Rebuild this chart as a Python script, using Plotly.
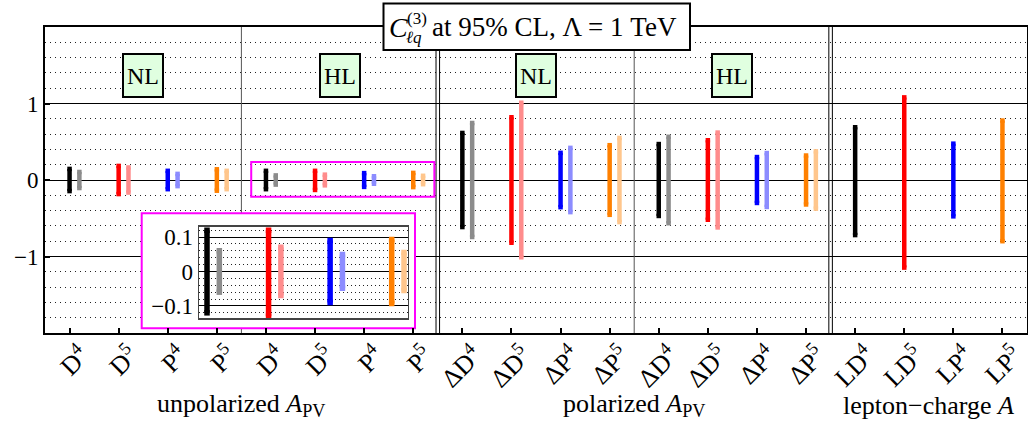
import plotly.graph_objects as go

# ---------------- data ----------------
tick_labels = ["D<sup>4</sup>", "D<sup>5</sup>", "P<sup>4</sup>", "P<sup>5</sup>",
               "D<sup>4</sup>", "D<sup>5</sup>", "P<sup>4</sup>", "P<sup>5</sup>",
               "ΔD<sup>4</sup>", "ΔD<sup>5</sup>", "ΔP<sup>4</sup>", "ΔP<sup>5</sup>",
               "ΔD<sup>4</sup>", "ΔD<sup>5</sup>", "ΔP<sup>4</sup>", "ΔP<sup>5</sup>",
               "LD<sup>4</sup>", "LD<sup>5</sup>", "LP<sup>4</sup>", "LP<sup>5</sup>"]

# upper / lower bound of the dark (first) bar of each category
dark_hi = [0.145, 0.184, 0.12, 0.14,
           0.12, 0.12, 0.09, 0.093,
           0.615, 0.82, 0.355, 0.455,
           0.47, 0.52, 0.30, 0.32,
           0.69, 1.08, 0.475, 0.777]
dark_lo = [-0.145, -0.184, -0.12, -0.14,
           -0.12, -0.13, -0.09, -0.093,
           -0.615, -0.82, -0.355, -0.455,
           -0.47, -0.52, -0.30, -0.32,
           -0.72, -1.145, -0.475, -0.80]
# upper / lower bound of the light (second) bar of each category
light_hi = [0.105, 0.164, 0.08, 0.12,
            0.06, 0.07, 0.049, 0.055,
            0.745, 1.01, 0.42, 0.55,
            0.565, 0.62, 0.352, 0.375,
            None, None, None, None]
light_lo = [-0.105, -0.164, -0.08, -0.12,
            -0.06, -0.07, -0.049, -0.055,
            -0.745, -1.01, -0.42, -0.55,
            -0.565, -0.62, -0.352, -0.375,
            None, None, None, None]

group_names = ["unpolarized <i>A</i><sub>PV</sub>", "polarized <i>A</i><sub>PV</sub>",
               "lepton−charge <i>A</i>"]
group_members = [range(0, 8), range(8, 16), range(16, 20)]
sub_names = ["NL", "HL", "NL", "HL"]
sub_members = [range(0, 4), range(4, 8), range(8, 12), range(12, 16)]
inset_members = range(4, 8)

dark_colors = ["#000000", "#ff0000", "#0000ff", "#ff8000"]
light_colors = ["#8c8c8c", "#ff8c8c", "#8c8cff", "#ffc68c"]
LIGHT_DX = 0.2

FONT = "Liberation Serif"


def segs(idxs, lo, hi, dx=0.0):
    xs, ys = [], []
    for i in idxs:
        if hi[i] is None:
            continue
        xs += [i + dx, i + dx, None]
        ys += [lo[i], hi[i], None]
    return xs, ys


fig = go.Figure()

n = len(tick_labels)
for c in range(4):
    idxs = [i for i in range(n) if i % 4 == c]
    for lo, hi, dx, col in [(dark_lo, dark_hi, 0.0, dark_colors[c]),
                            (light_lo, light_hi, LIGHT_DX, light_colors[c])]:
        xs, ys = segs(idxs, lo, hi, dx)
        fig.add_trace(go.Scatter(x=xs, y=ys, mode="lines+markers",
                                 line=dict(color=col, width=4.5),
                                 marker=dict(symbol="square", size=4.5, color=col,
                                             line=dict(width=0)),
                                 hoverinfo="skip", xaxis="x", yaxis="y"))
    iidx = [i for i in inset_members if i % 4 == c]
    for lo, hi, dx, col in [(dark_lo, dark_hi, 0.0, dark_colors[c]),
                            (light_lo, light_hi, LIGHT_DX, light_colors[c])]:
        xs, ys = segs(iidx, lo, hi, dx)
        fig.add_trace(go.Scatter(x=xs, y=ys, mode="lines+markers",
                                 line=dict(color=col, width=5.5),
                                 marker=dict(symbol="square", size=5.5, color=col,
                                             line=dict(width=0)),
                                 hoverinfo="skip", xaxis="x2", yaxis="y2"))

# ---------------- geometry helpers ----------------
W, H = 1028, 423
ML, MR, MT, MB = 45, 1, 27, 90
PW, PH = W - ML - MR, H - MT - MB
XR = (-0.5, 19.5)
YR = (-2.0, 2.0)


def px(x):
    return (x - ML) / PW


def py(y):
    return (H - MB - y) / PH


def dx_(x):
    return XR[0] + (x - ML) / PW * (XR[1] - XR[0])


def dy_(y):
    return YR[1] - (y - MT) / PH * (YR[1] - YR[0])


# ---------------- shapes ----------------
shapes = []
for xs_, col in [(3.5, "#555555"), (11.5, "#555555")]:
    shapes.append(dict(type="line", xref="x", yref="y", x0=xs_, x1=xs_, y0=YR[0], y1=YR[1],
                       line=dict(color=col, width=1), layer="between"))
for xs_ in (7.5, 15.5):
    for d in (-0.036, 0.036):
        shapes.append(dict(type="line", xref="x", yref="y", x0=xs_ + d, x1=xs_ + d,
                           y0=YR[0], y1=YR[1], line=dict(color="black", width=1),
                           layer="between"))
# inset background box (covers main grid, below inset subplot)
shapes.append(dict(type="rect", xref="x", yref="y",
                   x0=dx_(141.7), x1=dx_(415), y0=dy_(328.3), y1=dy_(213.3),
                   fillcolor="white", line=dict(color="#ff00ff", width=2), layer="between"))
# magenta frame marking the zoomed region
shapes.append(dict(type="rect", xref="x", yref="y", x0=3.70, x1=7.43, y0=-0.218, y1=0.235,
                   line=dict(color="#ff00ff", width=2), layer="above"))
# title box
shapes.append(dict(type="rect", xref="paper", yref="paper",
                   x0=px(383.5), x1=px(690), y0=py(50), y1=py(3.5),
                   fillcolor="white", line=dict(color="black", width=2), layer="above"))

# ---------------- annotations ----------------
ann = []
for name, mem in zip(sub_names, sub_members):
    cx = sum(mem) / len(mem)
    ann.append(dict(text=name, xref="x", yref="y", x=cx, y=1.36, showarrow=False,
                    bgcolor="#e0ffe0", bordercolor="black", borderwidth=2, borderpad=0,
                    width=38, height=41, font=dict(size=24, family=FONT)))
for name, mem in zip(group_names, group_members):
    cx = (min(mem) + max(mem)) / 2
    ann.append(dict(text=name, xref="x", yref="paper", x=cx, y=py(405), yanchor="middle",
                    showarrow=False, font=dict(size=26, family=FONT)))
ann.append(dict(text="<i>C</i>", xref="paper", yref="paper", x=px(387), y=py(27),
                xanchor="left", yanchor="middle", showarrow=False,
                font=dict(size=28, family=FONT)))
ann.append(dict(text="(3)", xref="paper", yref="paper", x=px(405), y=py(18),
                xanchor="left", yanchor="middle", showarrow=False,
                font=dict(size=17, family=FONT)))
ann.append(dict(text="<i>ℓq</i>", xref="paper", yref="paper", x=px(404), y=py(38),
                xanchor="left", yanchor="middle", showarrow=False,
                font=dict(size=17, family=FONT)))
ann.append(dict(text="at 95% CL, Λ = 1 TeV", xref="paper", yref="paper", x=px(554), y=py(27),
                xanchor="center", yanchor="middle", showarrow=False,
                font=dict(size=27, family=FONT)))

fig.update_layout(
    width=W, height=H,
    margin=dict(l=ML, r=MR, t=MT, b=MB, autoexpand=False),
    plot_bgcolor="white", paper_bgcolor="white",
    showlegend=False,
    font=dict(family=FONT, color="black"),
    shapes=shapes, annotations=ann,
    xaxis=dict(range=list(XR), tickmode="array", tickvals=list(range(n)), ticktext=tick_labels,
               tickangle=-45, ticks="inside", ticklen=5, tickwidth=2, tickcolor="black",
               showline=True, mirror=True, linewidth=2, linecolor="black",
               showgrid=False, zeroline=False, tickfont=dict(size=26, family=FONT),
               ticklabelshift=12, ticklabelstandoff=-5, automargin=False),
    yaxis=dict(range=list(YR), tickmode="array", tickvals=[-1, 0, 1], ticktext=["−1", "0", "1"],
               ticks="inside", ticklen=5, tickwidth=2, tickcolor="black",
               showline=True, mirror=True, linewidth=2, linecolor="black",
               showgrid=True, gridcolor="black", gridwidth=1, zeroline=False,
               tickfont=dict(size=23, family=FONT), automargin=False,
               minor=dict(dtick=0.2, tick0=0, showgrid=True, gridcolor="#222222",
                          griddash="1px,4px", gridwidth=1, ticks="")),
    xaxis2=dict(domain=[px(199), px(407.7)], anchor="y2", range=[3.87, 7.26],
                showticklabels=False, showgrid=False, zeroline=False, ticks="",
                showline=True, mirror=True, linecolor="#444444", linewidth=1.5,
                automargin=False),
    yaxis2=dict(domain=[py(318), py(226.7)], anchor="x2", range=[-0.135, 0.13],
                tickmode="array", tickvals=[-0.1, 0, 0.1], ticktext=["−0.1", "0", "0.1"],
                ticks="", showgrid=True, gridcolor="black", gridwidth=1, zeroline=False,
                showline=True, mirror=True, linecolor="#444444", linewidth=1.5,
                tickfont=dict(size=23, family=FONT), automargin=False,
                minor=dict(dtick=0.02, tick0=0, showgrid=True, gridcolor="#222222",
                           griddash="1px,3px", gridwidth=1, ticks="")),
)

fig.write_html("out.html", config={"displayModeBar": False, "staticPlot": True},
               post_script="document.body.style.margin='0px';document.body.style.overflow='hidden';")
